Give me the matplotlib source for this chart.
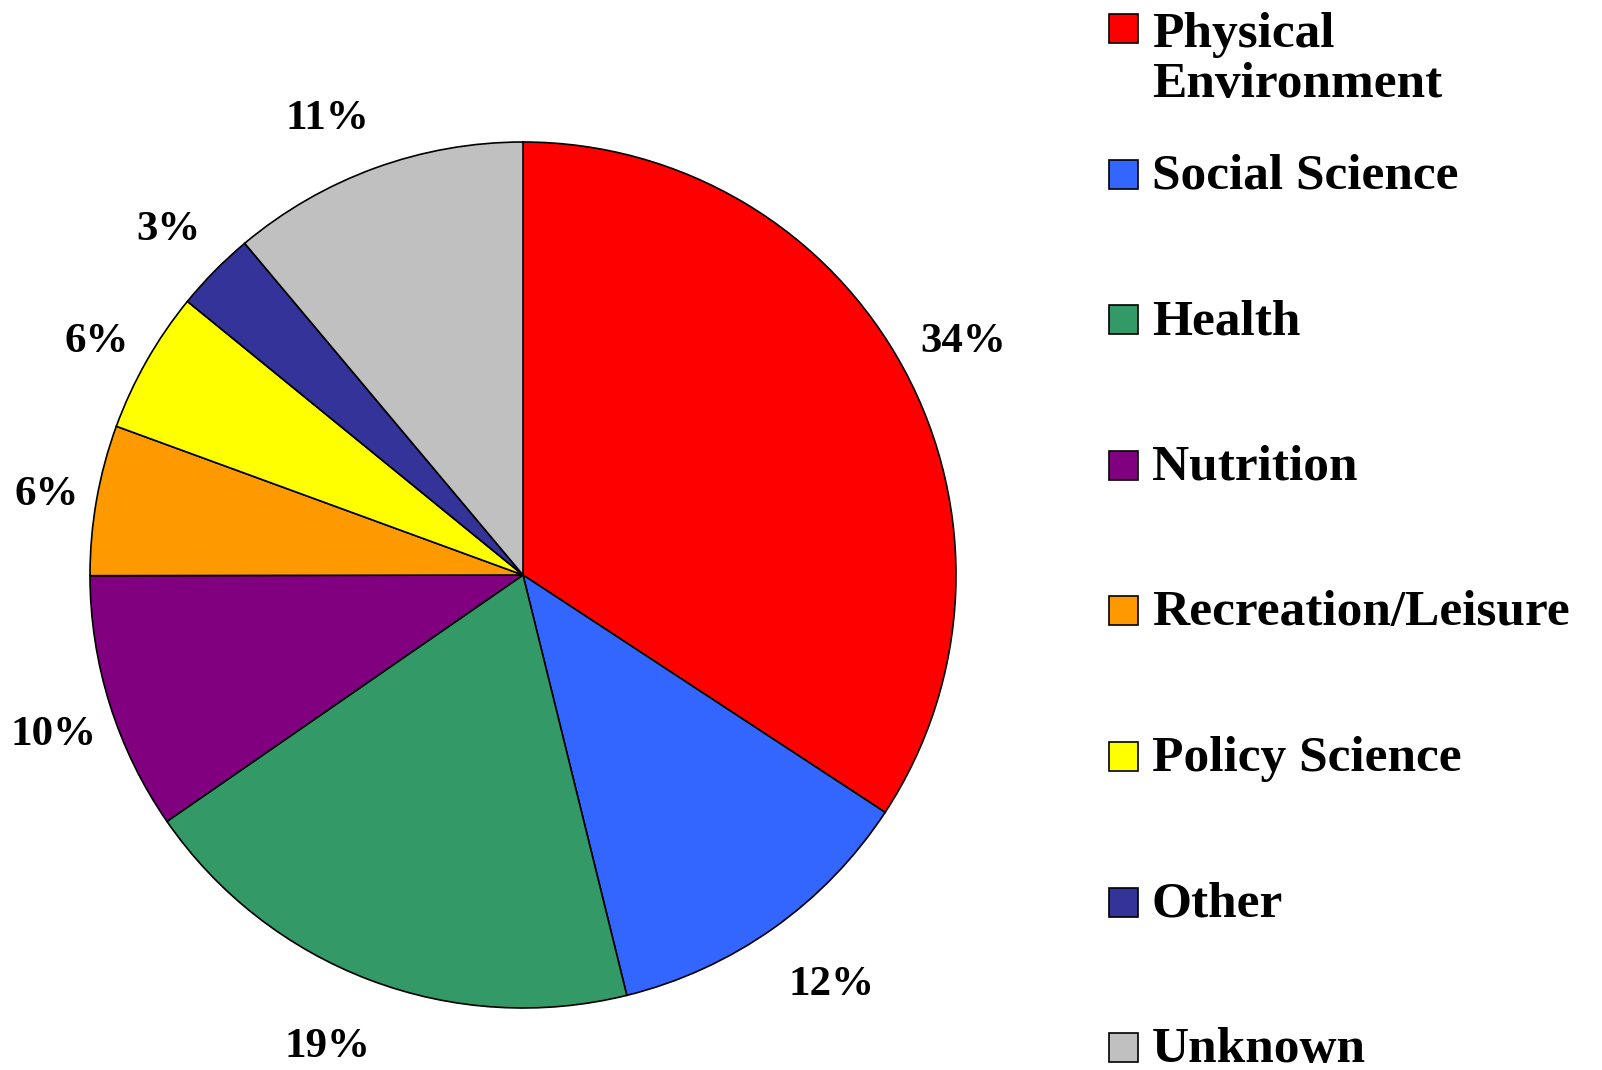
import matplotlib
matplotlib.use("Agg")
import matplotlib.pyplot as plt
import numpy as np
from matplotlib.patches import Rectangle

categories = ["Physical\nEnvironment", "Social Science", "Health", "Nutrition",
              "Recreation/Leisure", "Policy Science", "Other", "Unknown"]
values = [34.2, 11.9, 19.2, 9.6, 5.6, 5.3, 3.0, 11.1]
pct_labels = ["34%", "12%", "19%", "10%", "6%", "6%", "3%", "11%"]
colors = ["#FF0000", "#3366FF", "#339966", "#800080",
          "#FF9900", "#FFFF00", "#333399", "#C0C0C0"]

# label layout (radial distance in radii, angular shift in degrees)
label_dist = [1.156, 1.177, 1.17, 1.142, 1.118, 1.127, 1.149, 1.156]
label_shift = [0, 2, -2, 1, 0, 0.5, 0, 3]

plt.rcParams['font.family'] = ['Liberation Serif', 'DejaVu Serif']
plt.rcParams['font.weight'] = 'bold'

W, H = 1602, 1070
fig = plt.figure(figsize=(W / 100, H / 100), dpi=100)

cx, cy, R = 523, 575, 433
ax = fig.add_axes([(cx - R) / W, (H - cy - R) / H, 2 * R / W, 2 * R / H])
wedges, _ = ax.pie(values, colors=colors, startangle=90, counterclock=False,
                   radius=1.0, wedgeprops=dict(edgecolor="black", linewidth=1.2))
ax.set_xlim(-1, 1)
ax.set_ylim(-1, 1)
ax.set_aspect('equal')
ax.axis('off')

for w, lab, d, s in zip(wedges, pct_labels, label_dist, label_shift):
    ang = np.deg2rad((w.theta1 + w.theta2) / 2 + s)
    ax.text(d * np.cos(ang), d * np.sin(ang), lab, ha='center',
            va='center_baseline',
            fontsize=31, fontweight='bold', clip_on=False)

# legend
sq = 29
x0 = 1109
y_top0 = 14
step = 145.6
line_gap = 54
for i, (cat, col) in enumerate(zip(categories, colors)):
    top = y_top0 + i * step
    fig.patches.append(Rectangle((x0 / W, 1 - (top + sq) / H), sq / W, sq / H,
                                 transform=fig.transFigure, facecolor=col,
                                 edgecolor='black', linewidth=1.2))
    nextra = cat.count('\n')
    fig.text(1152 / W, 1 - (top + sq + nextra * line_gap) / H, cat,
             ha='left', va='baseline',
             fontsize=37, fontweight='bold', linespacing=1.12)

fig.savefig("out.png", dpi=100, facecolor='white')
